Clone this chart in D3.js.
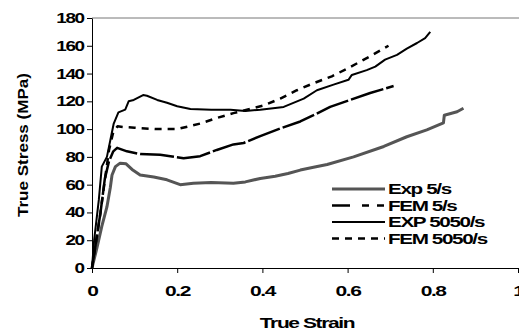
<!DOCTYPE html>
<html>
<head>
<meta charset="utf-8">
<script src="https://cdn.jsdelivr.net/npm/d3@7"></script>
<style>
  body { margin: 0; background: #fff; }
  text { font-family: "Liberation Sans", Arial, sans-serif; font-weight: bold; fill: #000; }
  .wide { transform-box: fill-box; }
</style>
</head>
<body>
<svg id="chart"></svg>
<script>
// [strain, stress] pairs
const exp5 = [[0,0],[0.012,15],[0.023,30],[0.035,44],[0.043,58],[0.047,67],[0.055,73],[0.066,75.5],[0.08,75],[0.094,71],[0.113,67],[0.145,65.5],[0.176,63.5],[0.207,60],[0.238,61],[0.28,61.5],[0.332,61],[0.36,62],[0.395,64.5],[0.43,66],[0.46,68],[0.489,70.5],[0.52,72.5],[0.552,74.5],[0.614,80],[0.685,87.5],[0.739,94.5],[0.786,99.5],[0.825,104.5],[0.827,110],[0.857,112.5],[0.872,115]];
const fem5 = [[0,0],[0.01,20],[0.02,40],[0.03,64],[0.04,77],[0.05,84],[0.059,86.5],[0.082,84],[0.113,82],[0.16,81.5],[0.184,80.5],[0.215,79],[0.254,80.5],[0.293,85],[0.332,89],[0.356,90],[0.395,95],[0.442,100.5],[0.489,105.5],[0.52,110],[0.559,116],[0.606,121],[0.653,126],[0.708,131]];
const exp5050 = [[0,0],[0.005,20],[0.016,49],[0.023,73],[0.035,80],[0.043,92],[0.051,104],[0.062,112],[0.078,114],[0.086,120],[0.098,121],[0.12,124.5],[0.129,124],[0.153,121],[0.176,119],[0.2,116.5],[0.231,114.5],[0.28,114],[0.325,114],[0.36,113],[0.395,114],[0.45,116],[0.497,122],[0.528,128],[0.567,132],[0.602,135.5],[0.61,139],[0.645,142.5],[0.665,145],[0.688,150],[0.716,153.5],[0.739,158],[0.763,162],[0.782,165.5],[0.794,170]];
const fem5050 = [[0,0],[0.01,20],[0.02,40],[0.03,63],[0.04,85],[0.05,98],[0.06,102],[0.074,101.5],[0.1,101],[0.15,100],[0.2,100],[0.254,104],[0.293,108],[0.332,111.5],[0.403,117],[0.442,122],[0.481,128],[0.52,133],[0.563,138],[0.602,144],[0.653,152.5],[0.696,160]];

const seriesNames = ["Exp 5/s", "FEM 5/s", "EXP 5050/s", "FEM 5050/s"];
const xTicks = [0, 0.2, 0.4, 0.6, 0.8, 1];
const yTicks = [0, 20, 40, 60, 80, 100, 120, 140, 160, 180];

const width = 519, height = 335;
const margin = {top: 18, right: 0, bottom: 67, left: 92};
const innerW = 426, innerH = height - margin.top - margin.bottom;

const svg = d3.select("#chart").attr("width", width).attr("height", height);
const g = svg.append("g").attr("transform", `translate(${margin.left},${margin.top})`);

const x = d3.scaleLinear().domain([0, 1]).range([0, innerW]);
const y = d3.scaleLinear().domain([0, 180]).range([innerH, 0]);

// stretched, tight bold text like the original
function widen(sel, origin, k) {
    sel.attr("class", "wide")
        .attr("letter-spacing", "-1")
        .style("transform-origin", origin)
        .style("transform", `scaleX(${k})`);
}

// top frame line
g.append("line")
    .attr("x1", 0).attr("x2", width - margin.left)
    .attr("y1", 0).attr("y2", 0)
    .attr("stroke", "#777").attr("stroke-width", 1);

const xAxis = g.append("g")
    .attr("transform", `translate(0,${innerH})`)
    .call(d3.axisBottom(x).tickValues(xTicks).tickFormat(d3.format("")).tickSize(5).tickSizeOuter(0).tickPadding(12));
xAxis.selectAll("text").style("font-size", "15px").call(widen, "center", 1.4);

const yAxis = g.append("g")
    .call(d3.axisLeft(y).tickValues(yTicks).tickSize(5).tickSizeOuter(0).tickPadding(3));
yAxis.selectAll("text").style("font-size", "14px").call(widen, "right", 1.35);

svg.selectAll(".domain, .tick line").attr("stroke", "#000");

const line = d3.line().x(d => x(d[0])).y(d => y(d[1]));

const styles = [
    {data: exp5, color: "#555", width: 3, dash: null, legendDash: null},
    {data: fem5, color: "#000", width: 2.5, dash: "34,3", legendDash: "18,12,7,8,7"},
    {data: exp5050, color: "#000", width: 2, dash: null, legendDash: null},
    {data: fem5050, color: "#000", width: 2.5, dash: "7,6", legendDash: "7,6"}
];

styles.forEach(s => {
    g.append("path")
        .datum(s.data)
        .attr("d", line)
        .attr("fill", "none")
        .attr("stroke", s.color)
        .attr("stroke-width", s.width)
        .attr("stroke-dasharray", s.dash)
        .attr("stroke-linejoin", "round");
});

// axis titles
svg.append("text")
    .attr("x", 307).attr("y", 328)
    .attr("text-anchor", "middle")
    .style("font-size", "15px")
    .text("True Strain")
    .call(widen, "center", 1.4);

svg.append("text")
    .attr("transform", "translate(28,145) rotate(-90)")
    .attr("text-anchor", "middle")
    .attr("textLength", 144)
    .attr("lengthAdjust", "spacingAndGlyphs")
    .style("font-size", "15px")
    .text("True Stress (MPa)");

// legend
const legend = svg.append("g").attr("transform", "translate(332,189)");
styles.forEach((s, i) => {
    const row = legend.append("g").attr("transform", `translate(0,${i * 16.5})`);
    row.append("line")
        .attr("x1", 0).attr("x2", 53)
        .attr("stroke", s.color)
        .attr("stroke-width", s.width)
        .attr("stroke-dasharray", s.legendDash);
    row.append("text")
        .attr("x", 56).attr("y", 5)
        .style("font-size", "15px")
        .text(seriesNames[i])
        .call(widen, "left", 1.38);
});
</script>
</body>
</html>
